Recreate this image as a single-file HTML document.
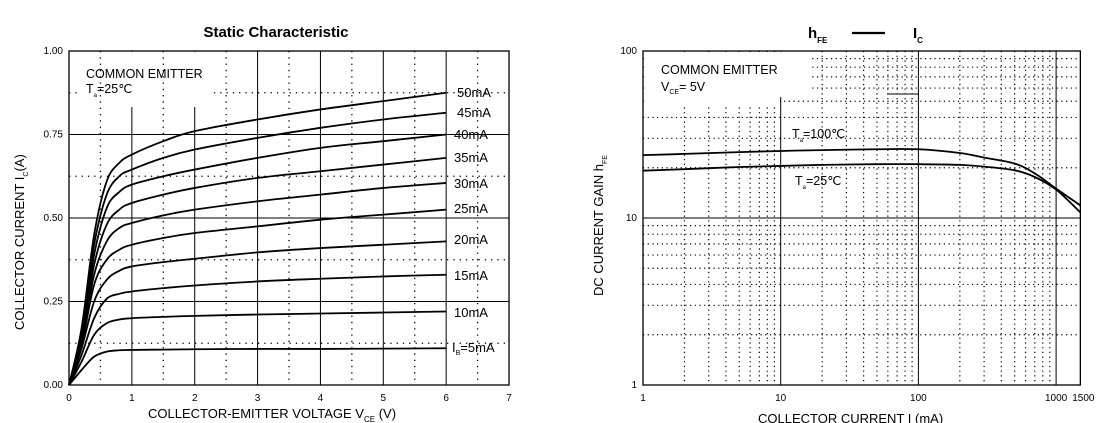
<!DOCTYPE html>
<html><head><meta charset="utf-8"><style>
html,body{margin:0;padding:0;background:#fff;}
svg{display:block;font-family:"Liberation Sans",sans-serif;}
</style></head><body>
<svg width="1100" height="423" viewBox="0 0 1100 423">
<g id="left"></g>
<g id="right"></g>
</svg>
<script>
// ---- Left chart data ----
const vceSamples = [0,0.2,0.4,0.6,0.8,1,1.5,2,3,4,5,6];
const ibLabels = ["5mA","10mA","15mA","20mA","25mA","30mA","35mA","40mA","45mA","50mA"];
const ic5  = [0,0.045,0.085,0.1,0.104,0.105,0.106,0.107,0.108,0.108,0.109,0.11];
const ic10 = [0,0.07,0.15,0.185,0.196,0.2,0.204,0.207,0.211,0.214,0.217,0.22];
const ic15 = [0,0.09,0.2,0.258,0.273,0.28,0.29,0.298,0.31,0.318,0.325,0.33];
const ic20 = [0,0.11,0.25,0.315,0.342,0.355,0.368,0.378,0.397,0.41,0.42,0.43];
const ic25 = [0,0.12,0.3,0.375,0.405,0.42,0.44,0.455,0.475,0.495,0.51,0.525];
const ic30 = [0,0.13,0.33,0.43,0.47,0.485,0.508,0.525,0.55,0.57,0.59,0.605];
const ic35 = [0,0.14,0.36,0.48,0.525,0.545,0.57,0.59,0.62,0.64,0.66,0.68];
const ic40 = [0,0.15,0.39,0.53,0.578,0.6,0.625,0.645,0.68,0.71,0.73,0.75];
const ic45 = [0,0.16,0.42,0.57,0.625,0.645,0.68,0.705,0.74,0.77,0.795,0.815];
const ic50 = [0,0.17,0.45,0.61,0.665,0.69,0.73,0.76,0.795,0.825,0.85,0.875];
const leftXTicks = ["0","1","2","3","4","5","6","7"];
const leftYTicks = ["0.00","0.25","0.50","0.75","1.00"];
// ---- Right chart data ----
const icSamples = [1,2,5,10,20,50,100,200,300,500,700,1000,1500];
const hfe100 = [23.8,24.2,24.8,25.2,25.5,25.8,25.8,24.5,23,21.2,18.5,15,11.9];
const hfe25  = [19.2,19.6,20.2,20.5,20.8,21,21,20.8,20.3,19.3,17.6,14.8,10.8];
const rightXTicks = ["1","10","100","1000","1500"];
const rightYTicks = ["1","10","100"];

const NS="http://www.w3.org/2000/svg";
function mk(parent,tag,attrs,text){const e=document.createElementNS(NS,tag);for(const k in attrs)e.setAttribute(k,attrs[k]);if(text!==undefined)e.textContent=text;parent.appendChild(e);return e;}
function smooth(pts){let d="M"+pts[0][0]+","+pts[0][1];for(let i=0;i<pts.length-1;i++){const p0=pts[i-1]||pts[i],p1=pts[i],p2=pts[i+1],p3=pts[i+2]||p2;const c1=[p1[0]+(p2[0]-p0[0])/6,p1[1]+(p2[1]-p0[1])/6],c2=[p2[0]-(p3[0]-p1[0])/6,p2[1]-(p3[1]-p1[1])/6];d+=" C"+c1[0]+","+c1[1]+" "+c2[0]+","+c2[1]+" "+p2[0]+","+p2[1];}return d;}

// ===== LEFT =====
const L=document.getElementById('left');
const lx=v=>69+v*62.86, ly=a=>385-a*334;
for(let a=0.125;a<1;a+=0.25){const e=mk(L,'line',{x1:lx(0),x2:lx(7),y1:ly(a),y2:ly(a),stroke:'#000','stroke-width':1.3,'stroke-dasharray':'1.3 5'});
}
for(let v=1;v<7;v++){const e=mk(L,'line',{x1:lx(v),x2:lx(v),y1:ly(1),y2:ly(0),stroke:'#000','stroke-width':1});
}
for(let a=0.25;a<1;a+=0.25){const e=mk(L,'line',{x1:lx(0),x2:lx(7),y1:ly(a),y2:ly(a),stroke:'#000','stroke-width':1});
}
mk(L,'rect',{x:78,y:ly(1)+1,width:135,height:55,fill:'#fff'});
for(let v=0.5;v<7;v+=1){const e=mk(L,'line',{x1:lx(v),x2:lx(v),y1:ly(1),y2:ly(0),stroke:'#000','stroke-width':1.3,'stroke-dasharray':'1.3 5'});
}
mk(L,'rect',{x:lx(0),y:ly(1),width:lx(7)-lx(0),height:ly(0)-ly(1),fill:'none',stroke:'#000','stroke-width':1.3});
leftXTicks.forEach((t,i)=>{const e=mk(L,'text',{x:lx(i),y:401,'font-size':10,'text-anchor':'middle'},t);
});
leftYTicks.forEach((t,i)=>{const e=mk(L,'text',{x:63,y:ly(i*0.25)+3,'font-size':10,'text-anchor':'end'},t);
});
const series=[ic5,ic10,ic15,ic20,ic25,ic30,ic35,ic40,ic45,ic50];
const labelY=[352,317,280,244,213,188,162,139,117,97];
series.forEach((s,i)=>{const e=mk(L,'path',{d:smooth(s.map((a,j)=>[lx(vceSamples[j]),ly(a)])),fill:'none',stroke:'#000','stroke-width':1.8});

const t=mk(L,'text',{x:i===0?452:(i>=8?457:454),y:labelY[i],'font-size':13},i===0?'':ibLabels[i]);

if(i===0){mk(t,'tspan',{},'I');mk(t,'tspan',{'font-size':7,dy:3},'B');mk(t,'tspan',{dy:-3},'=5mA');}
});
let t=mk(L,'text',{x:86,y:78,'font-size':12.5},'COMMON EMITTER');
t=mk(L,'text',{x:86,y:93,'font-size':12.5});
mk(t,'tspan',{},'T');mk(t,'tspan',{'font-size':6,dy:4},'a');mk(t,'tspan',{dy:-4},'=25℃');
t=mk(L,'text',{x:276,y:37,'font-size':15,'font-weight':'bold','text-anchor':'middle'},'Static Characteristic');
t=mk(L,'text',{x:148,y:418,'font-size':13});
mk(t,'tspan',{},'COLLECTOR-EMITTER VOLTAGE    V');mk(t,'tspan',{'font-size':8,dy:4},'CE');mk(t,'tspan',{dy:-4},'   (V)');
t=mk(L,'text',{transform:'translate(24,330) rotate(-90)','font-size':13});
mk(t,'tspan',{},'COLLECTOR CURRENT     I');mk(t,'tspan',{'font-size':7,dy:4},'C');mk(t,'tspan',{dy:-4},'(A)');

// ===== RIGHT =====
const R=document.getElementById('right');
const rx=v=>643+Math.log10(v)*137.7, ry=h=>385-Math.log10(h)*167;
for(let d=1;d<=1000;d*=10){for(let m=2;m<=9;m++){const v=d*m;if(v>1500)continue;const e=mk(R,'line',{x1:rx(v),x2:rx(v),y1:ry(100),y2:ry(1),stroke:'#000','stroke-width':1.2,'stroke-dasharray':'1.2 3.5'});
}}
for(let d=1;d<=10;d*=10){for(let m=2;m<=9;m++){const e=mk(R,'line',{x1:rx(1),x2:rx(1500),y1:ry(d*m),y2:ry(d*m),stroke:'#000','stroke-width':1.2,'stroke-dasharray':'1.2 3.5'});
}}
[10,100,1000].forEach(v=>{const e=mk(R,'line',{x1:rx(v),x2:rx(v),y1:ry(100),y2:ry(1),stroke:'#000','stroke-width':1});});
t=mk(R,'line',{x1:rx(1),x2:rx(1500),y1:ry(10),y2:ry(10),stroke:'#000','stroke-width':1});
mk(R,'rect',{x:rx(1)+1,y:ry(100)+1,width:167,height:45,fill:'#fff'});
mk(R,'rect',{x:rx(1)+1,y:ry(100)+1,width:136,height:54,fill:'#fff'});
mk(R,'rect',{x:rx(1),y:ry(100),width:rx(1500)-rx(1),height:ry(1)-ry(100),fill:'none',stroke:'#000','stroke-width':1.3});
mk(R,'line',{x1:887,x2:919,y1:94,y2:94,stroke:'#000','stroke-width':1});
rightXTicks.forEach(s=>{const e=mk(R,'text',{x:rx(+s)+(s==='1500'?3:0),y:401,'font-size':10,'text-anchor':'middle'},s);
});
rightYTicks.forEach(s=>{const e=mk(R,'text',{x:637,y:ry(+s)+3,'font-size':10,'text-anchor':'end'},s);
});
[[hfe100,'curve-ta-100c'],[hfe25,'curve-ta-25c']].forEach(([s,n])=>{const e=mk(R,'path',{d:smooth(s.map((h,j)=>[rx(icSamples[j]),ry(h)])),fill:'none',stroke:'#000','stroke-width':1.8});
});
t=mk(R,'text',{x:792,y:138,'font-size':12.5});
mk(t,'tspan',{},'T');mk(t,'tspan',{'font-size':6,dy:4},'a');mk(t,'tspan',{dy:-4},'=100℃');
t=mk(R,'text',{x:795,y:185,'font-size':12.5});
mk(t,'tspan',{},'T');mk(t,'tspan',{'font-size':6,dy:4},'a');mk(t,'tspan',{dy:-4},'=25℃');
t=mk(R,'text',{x:661,y:74,'font-size':12.5},'COMMON EMITTER');
t=mk(R,'text',{x:661,y:91,'font-size':12.5});
mk(t,'tspan',{},'V');mk(t,'tspan',{'font-size':7,dy:3},'CE');mk(t,'tspan',{dy:-3},'= 5V');
t=mk(R,'text',{x:808,y:38,'font-size':15,'font-weight':'bold'});
mk(t,'tspan',{},'h');mk(t,'tspan',{'font-size':8,dy:5},'FE');mk(t,'tspan',{dy:-5,x:913},'I');mk(t,'tspan',{'font-size':8,dy:5},'C');
mk(R,'line',{x1:852,x2:885,y1:33,y2:33,stroke:'#000','stroke-width':2.2});
t=mk(R,'text',{x:758,y:423,'font-size':13},'COLLECTOR CURRENT I (mA)');
t=mk(R,'text',{transform:'translate(603,296) rotate(-90)','font-size':13});
mk(t,'tspan',{},'DC CURRENT GAIN     h');mk(t,'tspan',{'font-size':7,dy:4},'FE');
</script>
</body></html>
